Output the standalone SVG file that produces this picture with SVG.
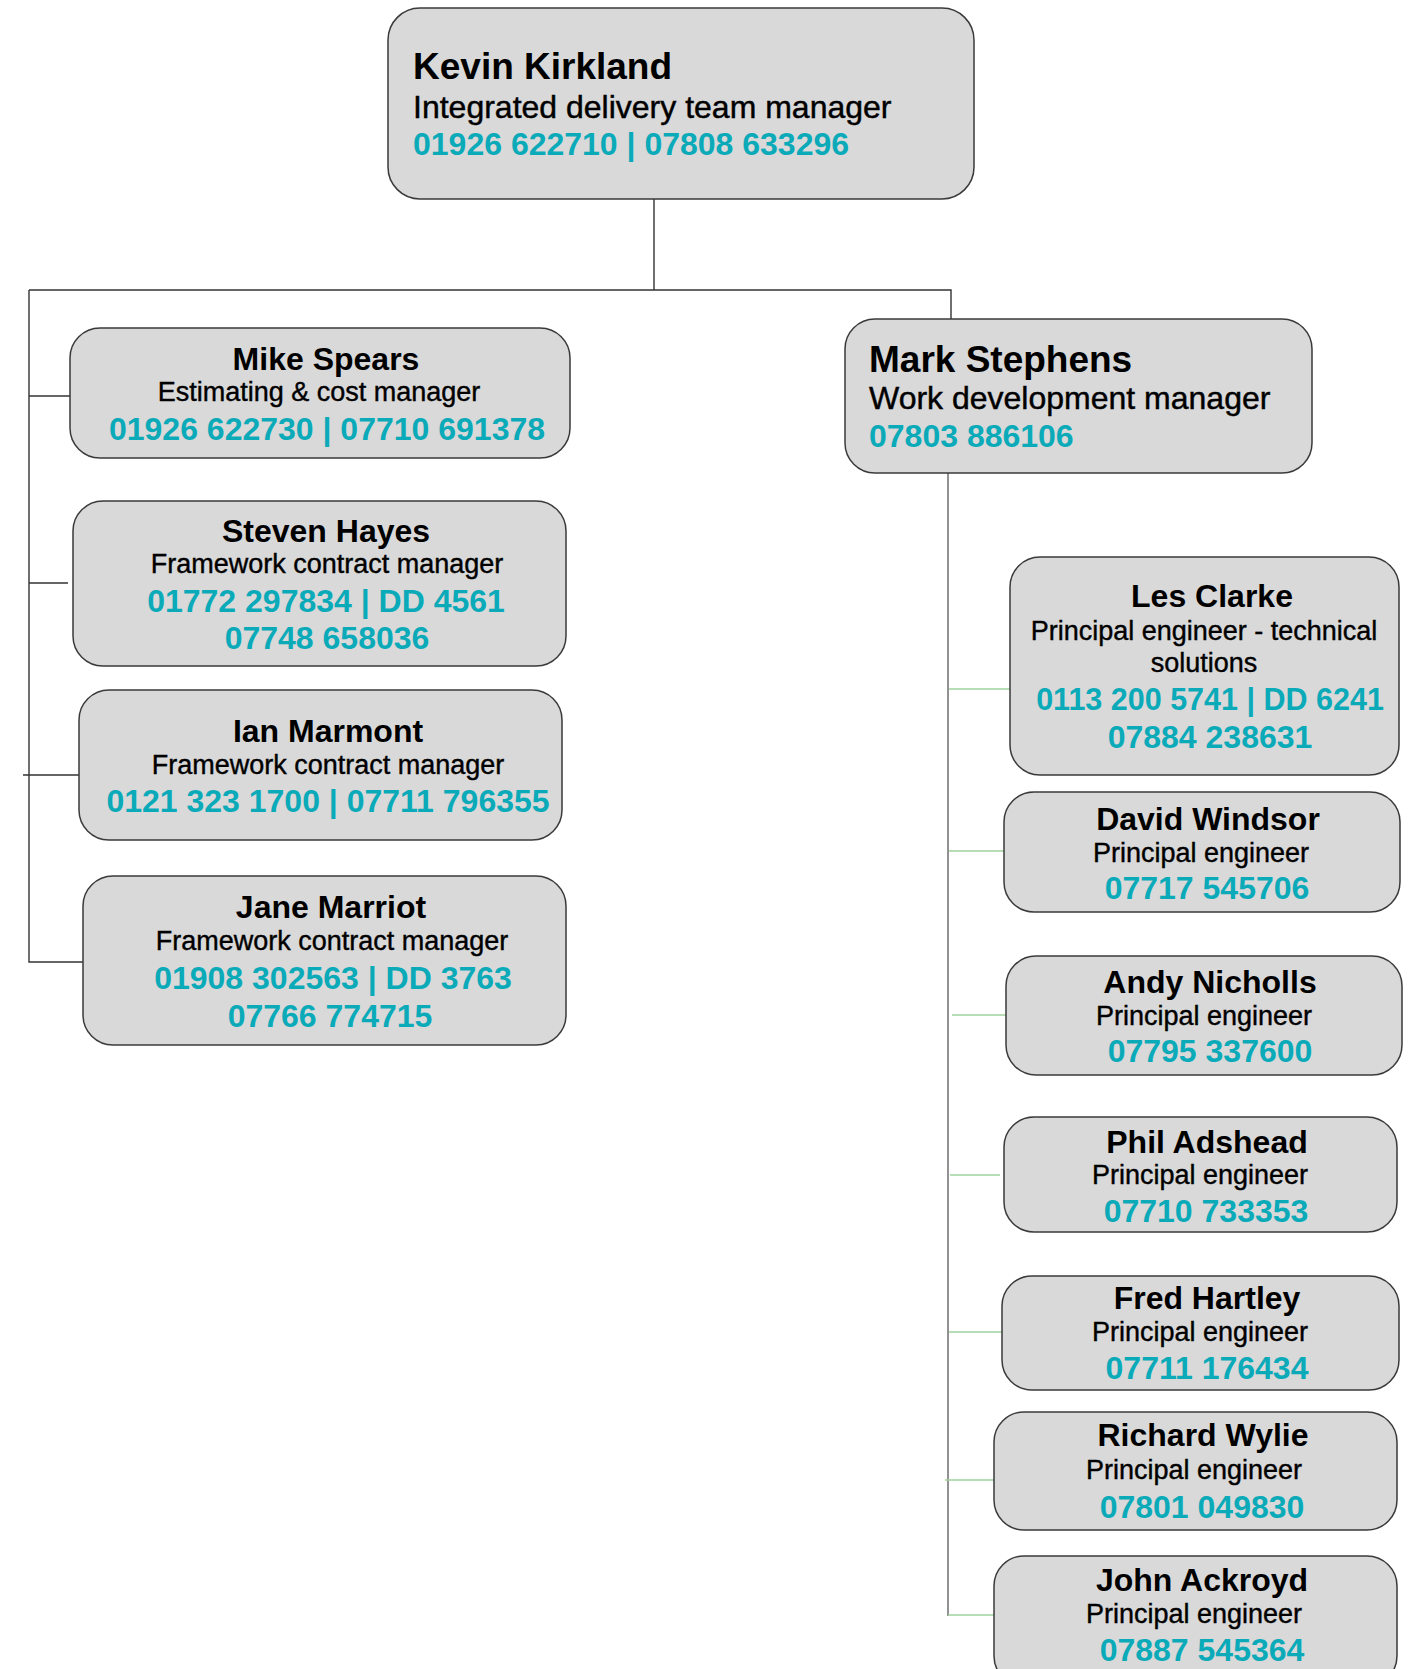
<svg xmlns="http://www.w3.org/2000/svg" width="1410" height="1669" viewBox="0 0 1410 1669">
<style>
.box{fill:#d9d9d9;stroke:#3a3a3a;stroke-width:1.5}
text{font-family:"Liberation Sans",Arial,sans-serif}
.nm{font-weight:bold;font-size:32px;fill:#000;text-anchor:middle}
.tt{font-size:27px;fill:#000;stroke:#000;stroke-width:0.4;text-anchor:middle}
.ph{font-weight:bold;font-size:32px;fill:#0aaab9;text-anchor:middle}
.bnm{font-weight:bold;font-size:37px;fill:#000}
.btt{font-size:32px;fill:#000;stroke:#000;stroke-width:0.45}
.bph{font-weight:bold;font-size:32px;fill:#0aaab9}
.ln{stroke:#333;stroke-width:1.4;fill:none}
.lg{stroke:#777;stroke-width:1.6;fill:none}
.gr{stroke:#9fd29f;stroke-width:1.4;fill:none}
</style>
<rect width="1410" height="1669" fill="#fff"/>
<g id="connectors">
<path class="ln" d="M654 199V290M29 290H951V319M29 290V962H83M29 396H70M29 583H68M23 775H79"/>
<path class="lg" d="M948 473V1616"/>
<path class="gr" d="M949 689H1010M949 851H1004M952 1015H1006M950 1175H1000M949 1332H1002M945 1480H994M948 1615H994"/>
</g>
<g id="kevin">
<rect class="box" x="388" y="8" width="586" height="191" rx="32"/>
<text class="bnm" x="413" y="79">Kevin Kirkland</text>
<text class="btt" x="413" y="118">Integrated delivery team manager</text>
<text class="bph" x="413" y="155">01926 622710 | 07808 633296</text>
</g>
<g id="mike">
<rect class="box" x="70" y="328" width="500" height="130" rx="30"/>
<text class="nm" x="326" y="370">Mike Spears</text>
<text class="tt" x="319" y="401">Estimating &amp; cost manager</text>
<text class="ph" x="327" y="440">01926 622730 | 07710 691378</text>
</g>
<g id="steven">
<rect class="box" x="73" y="501" width="493" height="165" rx="30"/>
<text class="nm" x="326" y="542">Steven Hayes</text>
<text class="tt" x="327" y="573">Framework contract manager</text>
<text class="ph" x="326" y="612">01772 297834 | DD 4561</text>
<text class="ph" x="327" y="649">07748 658036</text>
</g>
<g id="ian">
<rect class="box" x="79" y="690" width="483" height="150" rx="30"/>
<text class="nm" x="328" y="742">Ian Marmont</text>
<text class="tt" x="328" y="774">Framework contract manager</text>
<text class="ph" x="328" y="812">0121 323 1700 | 07711 796355</text>
</g>
<g id="jane">
<rect class="box" x="83" y="876" width="483" height="169" rx="30"/>
<text class="nm" x="331" y="918">Jane Marriot</text>
<text class="tt" x="332" y="950">Framework contract manager</text>
<text class="ph" x="333" y="989">01908 302563 | DD 3763</text>
<text class="ph" x="330" y="1027">07766 774715</text>
</g>
<g id="mark">
<rect class="box" x="845" y="319" width="467" height="154" rx="30"/>
<text class="bnm" x="869" y="372">Mark Stephens</text>
<text class="btt" x="869" y="409">Work development manager</text>
<text class="bph" x="869" y="447">07803 886106</text>
</g>
<g id="les">
<rect class="box" x="1010" y="557" width="389" height="218" rx="30"/>
<text class="nm" x="1212" y="607">Les Clarke</text>
<text class="tt" x="1204" y="640">Principal engineer - technical</text>
<text class="tt" x="1204" y="672">solutions</text>
<text class="ph" x="1210" y="710" style="font-size:30.5px">0113 200 5741 | DD 6241</text>
<text class="ph" x="1210" y="748">07884 238631</text>
</g>
<g id="david">
<rect class="box" x="1004" y="792" width="396" height="120" rx="30"/>
<text class="nm" x="1208" y="830">David Windsor</text>
<text class="tt" x="1201" y="862">Principal engineer</text>
<text class="ph" x="1207" y="899">07717 545706</text>
</g>
<g id="andy">
<rect class="box" x="1006" y="956" width="396" height="119" rx="30"/>
<text class="nm" x="1210" y="993">Andy Nicholls</text>
<text class="tt" x="1204" y="1025">Principal engineer</text>
<text class="ph" x="1210" y="1062">07795 337600</text>
</g>
<g id="phil">
<rect class="box" x="1004" y="1117" width="393" height="115" rx="30"/>
<text class="nm" x="1207" y="1153">Phil Adshead</text>
<text class="tt" x="1200" y="1184">Principal engineer</text>
<text class="ph" x="1206" y="1222">07710 733353</text>
</g>
<g id="fred">
<rect class="box" x="1002" y="1276" width="397" height="114" rx="30"/>
<text class="nm" x="1207" y="1309">Fred Hartley</text>
<text class="tt" x="1200" y="1341">Principal engineer</text>
<text class="ph" x="1207" y="1379">07711 176434</text>
</g>
<g id="richard">
<rect class="box" x="994" y="1412" width="403" height="118" rx="30"/>
<text class="nm" x="1203" y="1446">Richard Wylie</text>
<text class="tt" x="1194" y="1479">Principal engineer</text>
<text class="ph" x="1202" y="1518">07801 049830</text>
</g>
<g id="john">
<rect class="box" x="994" y="1556" width="403" height="130" rx="30"/>
<text class="nm" x="1202" y="1591">John Ackroyd</text>
<text class="tt" x="1194" y="1623">Principal engineer</text>
<text class="ph" x="1202" y="1661">07887 545364</text>
</g>
</svg>
